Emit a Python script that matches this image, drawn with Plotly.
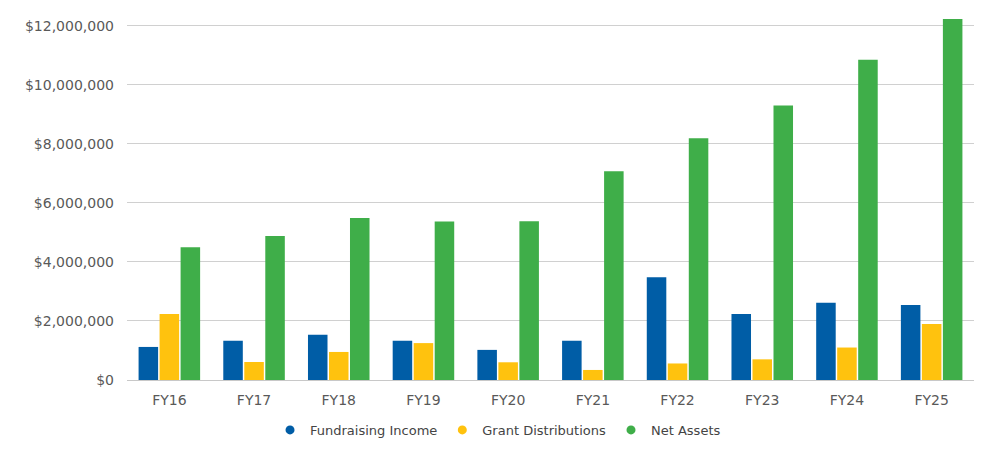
import plotly.graph_objects as go

categories = ["FY16", "FY17", "FY18", "FY19", "FY20", "FY21", "FY22", "FY23", "FY24", "FY25"]
fundraising_income = [1120000, 1330000, 1530000, 1330000, 1020000, 1330000, 3480000, 2240000, 2620000, 2540000]
grant_distributions = [2240000, 610000, 950000, 1250000, 600000, 340000, 560000, 700000, 1100000, 1900000]
net_assets = [4500000, 4880000, 5490000, 5370000, 5380000, 7070000, 8190000, 9300000, 10850000, 12230000]
series_names = ["Fundraising Income", "Grant Distributions", "Net Assets"]
colors = ["#005DA6", "#FFC20E", "#3FAE49"]
tick_vals = [0, 2000000, 4000000, 6000000, 8000000, 10000000, 12000000]
tick_text = ["$0", "$2,000,000", "$4,000,000", "$6,000,000", "$8,000,000", "$10,000,000", "$12,000,000"]

FONT = "DejaVu Sans"

fig = go.Figure()
for name, vals, col in zip(series_names, [fundraising_income, grant_distributions, net_assets], colors):
    fig.add_trace(go.Bar(x=categories, y=vals, name=name, marker=dict(color=col, line=dict(width=0)),
                         showlegend=False))
for name, col in zip(series_names, colors):
    fig.add_trace(go.Scatter(x=[None], y=[None], mode="markers", name=name,
                             marker=dict(symbol="circle", size=9, color=col), showlegend=True))

# page body has an 8px margin; figure sized to fit the 1000x451 window exactly
fig.update_layout(
    width=984, height=435,
    paper_bgcolor="white", plot_bgcolor="white",
    margin=dict(l=119, r=18, t=3, b=63, autoexpand=False),
    barmode="group", bargap=0.256, bargroupgap=0.07,
    font=dict(family=FONT, color="#595959", size=14),
    legend=dict(orientation="h", xref="container", yref="container",
                x=0.498, xanchor="center", y=0.03, yanchor="middle",
                font=dict(family=FONT, size=13, color="#444444"), itemwidth=30,
                traceorder="normal"),
    xaxis=dict(type="category", showgrid=False, showline=True, linecolor="#c8c8c8", linewidth=1,
               ticks="", automargin=False, ticklabelstandoff=7,
               tickfont=dict(family=FONT, size=14, color="#595959")),
    yaxis=dict(range=[0, 12500000], tickvals=tick_vals, ticktext=tick_text, showgrid=True,
               gridcolor="#d0d0d0", gridwidth=1, zeroline=False, showline=False, ticks="",
               ticklabelstandoff=12, automargin=False,
               tickfont=dict(family=FONT, size=14, color="#595959")),
)

fig.write_html("out.html")
